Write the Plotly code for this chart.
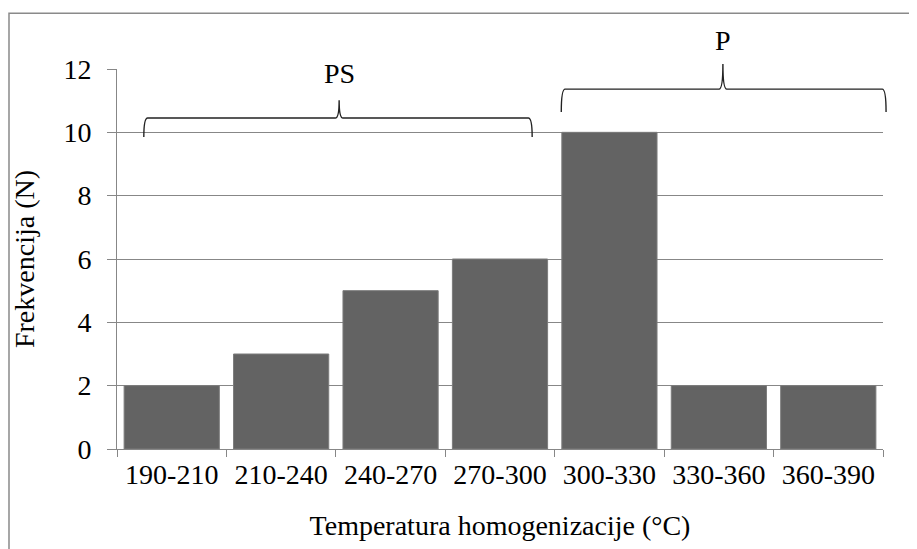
import plotly.graph_objects as go

categories = ["190-210", "210-240", "240-270", "270-300", "300-330", "330-360", "360-390"]
frequency = [2, 3, 5, 6, 10, 2, 2]
y_ticks = [0, 2, 4, 6, 8, 10, 12]
group_labels = ["PS", "P"]

FONT = "'Liberation Serif', 'Times New Roman', Times, serif"
GRID = "#878787"
FS = 28

fig = go.Figure(go.Bar(
    x=categories, y=frequency,
    marker=dict(color="#636363", line=dict(color="#7c7c7c", width=1)),
))


def brace(x0, x1, xm, yb, yh, yt, r=0.005, rm=0.005):
    return (f"M {x0},{yb} Q {x0},{yh} {x0 + r},{yh} L {xm - rm},{yh} "
            f"Q {xm},{yh} {xm},{yt} Q {xm},{yh} {xm + rm},{yh} "
            f"L {x1 - r},{yh} Q {x1},{yh} {x1},{yb}")


shapes = [
    dict(type="path", xref="paper", yref="paper",
         path=brace(0.035, 0.542, 0.290, 0.821, 0.871, 0.918),
         line=dict(color="#222222", width=1.4)),
    dict(type="path", xref="paper", yref="paper",
         path=brace(0.580, 1.004, 0.791, 0.887, 0.947, 1.013),
         line=dict(color="#222222", width=1.4)),
    dict(type="rect", xref="paper", yref="paper",
         x0=-0.141, x1=1.08, y0=-0.4, y1=1.147,
         line=dict(color="#8a8a8a", width=1.5)),
]

annotations = [
    dict(text=group_labels[0], x=0.290, y=0.989, xref="paper", yref="paper",
         xanchor="center", yanchor="middle",
         showarrow=False, font=dict(family=FONT, size=FS, color="black")),
    dict(text=group_labels[1], x=0.791, y=1.076, xref="paper", yref="paper",
         xanchor="center", yanchor="middle",
         showarrow=False, font=dict(family=FONT, size=FS, color="black")),
]

fig.update_layout(
    width=917, height=549,
    margin=dict(l=109, r=42, t=61, b=108),
    paper_bgcolor="white", plot_bgcolor="white",
    bargap=0.13,
    showlegend=False,
    font=dict(family=FONT, size=FS, color="black"),
    shapes=shapes,
    annotations=annotations,
    xaxis=dict(
        tickson="boundaries", ticks="outside", ticklen=7, tickcolor=GRID, tickwidth=1,
        showline=True, linecolor=GRID, linewidth=1,
        showgrid=False,
        title=dict(text="Temperatura homogenizacije (°C)", standoff=26,
                   font=dict(family=FONT, size=FS)),
        tickfont=dict(family=FONT, size=FS),
    ),
    yaxis=dict(
        range=[0, 12], tickvals=y_ticks,
        ticks="outside", ticklen=9, tickcolor=GRID, tickwidth=1,
        showline=True, linecolor=GRID, linewidth=1,
        showgrid=True, gridcolor=GRID, gridwidth=1,
        zeroline=False, ticklabelstandoff=10,
        title=dict(text="Frekvencija (N)", standoff=20,
                   font=dict(family=FONT, size=FS)),
        tickfont=dict(family=FONT, size=FS),
    ),
)

fig.write_html("out.html")
